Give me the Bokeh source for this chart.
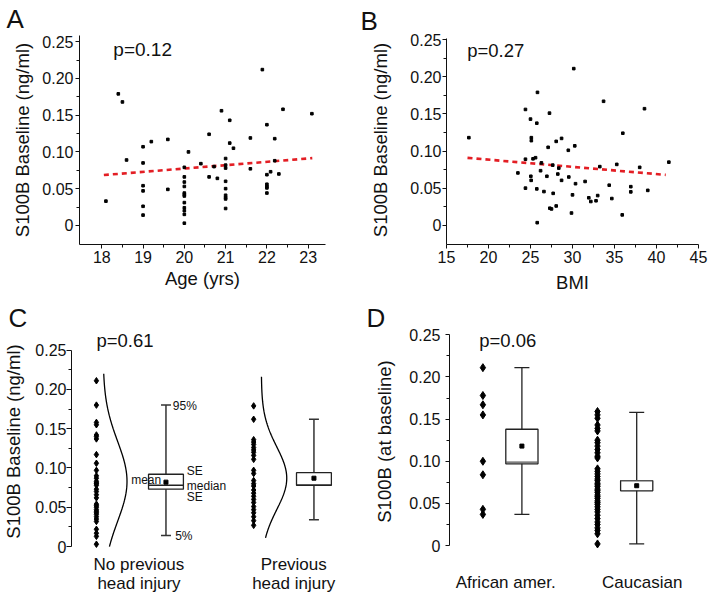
import numpy as np
from bokeh.plotting import figure
from bokeh.layouts import column, row
from bokeh.models import Range1d, FixedTicker, Label
from bokeh.embed import file_html
from bokeh.resources import INLINE

FONT = "Liberation Sans"
INK = "#111111"
RED = "#e31e24"

# ---------------- data ----------------
# Panel A: age vs S100B baseline
age_yrs = [18.10, 18.40, 18.50, 18.60,
           19.0, 19.0, 19.0, 19.0, 19.0, 19.0, 19.2, 19.6, 19.6,
           20.0, 20.0, 20.0, 20.0, 20.0, 20.0, 20.0, 20.0, 20.0, 20.0, 20.0, 20.0,
           20.1, 20.4, 20.6, 20.6, 20.72, 20.8, 20.9,
           21.0, 21.0, 21.0, 21.0, 21.0, 21.0, 21.0, 21.0, 21.0,
           21.1, 21.1, 21.19, 21.6, 21.6, 21.89,
           22.0, 22.0, 22.0, 22.0, 22.0, 22.0,
           22.09, 22.19, 22.19, 22.29, 22.39, 23.09]
s100b_age = [0.033, 0.179, 0.168, 0.089,
             0.107, 0.085, 0.054, 0.047, 0.026, 0.014, 0.114, 0.117, 0.049,
             0.079, 0.066, 0.059, 0.053, 0.044, 0.042, 0.040, 0.031, 0.024, 0.020, 0.015, 0.003,
             0.100, 0.084, 0.124, 0.066, 0.080, 0.064, 0.156,
             0.091, 0.082, 0.078, 0.060, 0.050, 0.041, 0.038, 0.036, 0.023,
             0.143, 0.112, 0.105, 0.119, 0.077, 0.212,
             0.137, 0.069, 0.056, 0.053, 0.051, 0.044,
             0.073, 0.118, 0.088, 0.070, 0.158, 0.152]
fit_age_x = [18.05, 23.1]
fit_age_y = [0.0685, 0.0915]
p_age = "p=0.12"

# Panel B: BMI vs S100B baseline
bmi = [17.66, 25.83, 24.4, 27.26, 25.0, 25.75, 25.1, 25.1, 28.7, 28.06, 27.1, 29.5,
       24.4, 25.3, 25.6, 26.3, 27.65, 28.37, 23.5, 26.2, 28.25, 25.04, 26.95, 29.56,
       25.08, 28.7, 24.4, 25.75, 26.6, 27.7, 28.06, 27.3, 27.5, 25.8,
       30.15, 33.7, 38.57, 35.99, 30.27, 35.27, 33.25, 38.0, 41.47, 30.36, 31.5, 34.37,
       36.94, 36.94, 38.96, 30.0, 33.0, 31.94, 34.68, 32.18, 32.8, 29.88, 35.92]
s100b_bmi = [0.118, 0.179, 0.156, 0.151, 0.143, 0.1375, 0.118, 0.114, 0.117, 0.113, 0.105, 0.101,
             0.089, 0.0895, 0.091, 0.084, 0.081, 0.077, 0.0705, 0.0735, 0.069, 0.066, 0.066, 0.065,
             0.0605, 0.0605, 0.050, 0.049, 0.0454, 0.043, 0.026, 0.023, 0.022, 0.0035,
             0.211, 0.167, 0.157, 0.124, 0.107, 0.082, 0.079, 0.078, 0.085, 0.056, 0.059, 0.054,
             0.052, 0.045, 0.047, 0.041, 0.040, 0.037, 0.036, 0.032, 0.033, 0.0165, 0.014]
fit_bmi_x = [17.5, 41.1]
fit_bmi_y = [0.0908, 0.0679]
p_bmi = "p=0.27"

# Panel C: previous head injury
c_categories = ["No previous\nhead injury", "Previous\nhead injury"]
c_values = [
    [0.211, 0.180, 0.158, 0.155, 0.142, 0.140, 0.137, 0.117, 0.106, 0.097, 0.090, 0.087,
     0.083, 0.081, 0.080, 0.078, 0.073, 0.070, 0.066, 0.062, 0.054, 0.052, 0.050, 0.047,
     0.045, 0.043, 0.041, 0.038, 0.035, 0.032, 0.022, 0.017, 0.013, 0.003],
    [0.179, 0.162, 0.136, 0.133, 0.130, 0.126, 0.123, 0.120, 0.116, 0.111, 0.097, 0.093,
     0.084, 0.080, 0.077, 0.072, 0.068, 0.064, 0.060, 0.056, 0.051, 0.047, 0.043, 0.038,
     0.033, 0.027],
]
c_p5 = [0.014, 0.034]
c_se_lo = [0.073, 0.078]
c_median = [0.078, 0.078]
c_se_hi = [0.092, 0.094]
c_p95 = [0.180, 0.162]
c_mean = [0.082, 0.087]
c_fit_mean = [0.083, 0.087]
c_fit_sd = [0.051, 0.040]
c_fit_lo = [0.0, 0.011]
c_fit_hi = [0.220, 0.216]
p_injury = "p=0.61"

# Panel D: ethnicity
d_categories = ["African amer.", "Caucasian"]
d_values = [
    [0.211, 0.178, 0.167, 0.155, 0.100, 0.084, 0.043, 0.037],
    [0.159, 0.155, 0.151, 0.143, 0.139, 0.136, 0.125, 0.122, 0.118, 0.114, 0.110, 0.106,
     0.104, 0.091, 0.088, 0.085, 0.082, 0.079, 0.077, 0.074, 0.072, 0.070, 0.067, 0.065,
     0.063, 0.060, 0.058, 0.056, 0.053, 0.051, 0.049, 0.046, 0.043, 0.040, 0.036, 0.032,
     0.028, 0.025, 0.021, 0.018, 0.014, 0.002],
]
d_low = [0.037, 0.002]
d_box_lo = [0.097, 0.065]
d_median = [0.099, 0.077]
d_box_hi = [0.138, 0.077]
d_high = [0.211, 0.158]
d_mean = [0.118, 0.071]
p_ethnic = "p=0.06"

y_ticks = [0, 0.05, 0.10, 0.15, 0.20, 0.25]
y_tick_labels = ["0", "0.05", "0.10", "0.15", "0.20", "0.25"]
y_minor = [0.025, 0.075, 0.125, 0.175, 0.225]
age_ticks = [18, 19, 20, 21, 22, 23]
age_minor = [18.5, 19.5, 20.5, 21.5, 22.5]
bmi_ticks = [15, 20, 25, 30, 35, 40, 45]
bmi_minor = [17.5, 22.5, 27.5, 32.5, 37.5, 42.5]


# ---------------- helpers ----------------
def make_fig(w, h, xr, yr, bl, br, bt, bb, letter, letter_offset, letter_standoff):
    p = figure(width=w, height=h, x_range=Range1d(*xr), y_range=Range1d(*yr),
               output_backend="svg", toolbar_location=None,
               min_border_left=bl, min_border_right=br,
               min_border_top=bt, min_border_bottom=bb)
    p.grid.visible = False
    p.outline_line_color = None
    p.background_fill_color = "white"
    p.border_fill_color = "white"
    p.title.text = letter
    p.title.text_font = FONT
    p.title.text_font_size = "26px"
    p.title.text_font_style = "normal"
    p.title.text_color = INK
    p.title.align = "left"
    p.title.offset = letter_offset
    p.title.standoff = letter_standoff
    return p


def style_axis(ax, ticks, labels, minor, label, tick_out, lab_standoff, axlab_standoff):
    ax.ticker = FixedTicker(ticks=ticks, minor_ticks=minor)
    ax.major_label_overrides = {t: l for t, l in zip(ticks, labels)}
    ax.axis_line_color = INK
    ax.axis_line_width = 1
    ax.major_tick_line_color = INK
    ax.minor_tick_line_color = INK
    ax.major_tick_out = tick_out
    ax.major_tick_in = 0
    ax.minor_tick_out = 3
    ax.minor_tick_in = 0
    ax.major_label_standoff = lab_standoff
    ax.major_label_text_font = FONT
    ax.major_label_text_font_size = "16px"
    ax.major_label_text_color = INK
    ax.axis_label = label
    ax.axis_label_text_font = FONT
    ax.axis_label_text_font_size = "18.5px"
    ax.axis_label_text_font_style = "normal"
    ax.axis_label_text_color = INK
    ax.axis_label_standoff = axlab_standoff


def category_axis(ax, positions, labels, standoff):
    ax.ticker = FixedTicker(ticks=positions, minor_ticks=[])
    ax.major_label_overrides = {t: l for t, l in zip(positions, labels)}
    ax.axis_line_color = None
    ax.major_tick_line_color = None
    ax.minor_tick_line_color = None
    ax.major_tick_out = 0
    ax.major_tick_in = 0
    ax.major_label_standoff = standoff
    ax.major_label_text_font = FONT
    ax.major_label_text_font_size = "17px"
    ax.major_label_text_color = INK
    ax.major_label_text_line_height = 1.0


def add_text(p, x, y, text, size, align="left"):
    p.add_layout(Label(x=x, y=y, text=text, text_font=FONT, text_font_size=size,
                       text_align=align, text_baseline="middle", text_color=INK))


# ---------------- Panel A ----------------
pA = make_fig(355, 300, (17.46, 23.42), (-0.026, 0.2584), 79, 30, 33, 56, "A", -73, 3)
style_axis(pA.yaxis[0], y_ticks, y_tick_labels, y_minor, "S100B Baseline (ng/ml)", 4, 2, 6)
style_axis(pA.xaxis[0], age_ticks, [str(t) for t in age_ticks], age_minor, "Age (yrs)", 4, 2, 2)
pA.line(fit_age_x, fit_age_y, line_color=RED, line_width=2.6, line_dash="5 4")
pA.scatter(age_yrs, s100b_age, marker="square", size=2.6, color="black")
add_text(pA, 18.28, 0.2396, p_age, "19px")

# ---------------- Panel B ----------------
pB = make_fig(356, 300, (15, 45), (-0.0259, 0.2556), 91, 13, 30, 53, "B", -86, 0)
style_axis(pB.yaxis[0], y_ticks, y_tick_labels, y_minor, "S100B Baseline (ng/ml)", 4, 1, 16)
pB.yaxis[0].bounds = (-0.0259, 0.2513)
style_axis(pB.xaxis[0], bmi_ticks, [str(t) for t in bmi_ticks], bmi_minor, "BMI", 4, 2, 6)
pB.line(fit_bmi_x, fit_bmi_y, line_color=RED, line_width=2.6, line_dash="5 4")
pB.scatter(bmi, s100b_bmi, marker="square", size=2.6, color="black")
add_text(pB, 17.46, 0.2351, p_bmi, "18.5px")

# ---------------- Panel C ----------------
pC = make_fig(355, 296, (0, 285), (-0.005, 0.2724), 70, 0, 30, 46, "C", -63, 0)
style_axis(pC.yaxis[0], y_ticks, y_tick_labels, y_minor, "S100B Baseline (ng/ml)", 5, 0, 8)
pC.yaxis[0].bounds = (0, 0.25)
c_dot_x = [25.0, 182.8]
c_curve_base = [31.7, 190.5]
c_curve_amp = [24.0, 25.5]
c_box_x = [94.8, 243.3]
c_box_w = 35.0
c_cap_w = 10.0
c_label_x = [67.7, 223.0]
category_axis(pC.xaxis[0], c_label_x, c_categories, 4)
for i in range(2):
    vals = c_values[i]
    pC.scatter([c_dot_x[i]] * len(vals), vals, marker="diamond", size=6.5, color="black")
    ys = np.linspace(c_fit_lo[i], c_fit_hi[i], 150)
    xs = c_curve_base[i] + c_curve_amp[i] * np.exp(-0.5 * ((ys - c_fit_mean[i]) / c_fit_sd[i]) ** 2)
    pC.line(xs, ys, line_color="black", line_width=1.3)
    bx = c_box_x[i]
    pC.segment(x0=[bx], y0=[c_p5[i]], x1=[bx], y1=[c_p95[i]], line_color="#333333", line_width=1.5)
    pC.segment(x0=[bx - c_cap_w / 2] * 2, y0=[c_p5[i], c_p95[i]],
               x1=[bx + c_cap_w / 2] * 2, y1=[c_p5[i], c_p95[i]], line_color="#333333", line_width=1.5)
    pC.quad(left=[bx - c_box_w / 2], right=[bx + c_box_w / 2], bottom=[c_se_lo[i]], top=[c_se_hi[i]],
            fill_color="white", line_color="#222222", line_width=1.3)
    pC.segment(x0=[bx - c_box_w / 2], y0=[c_median[i]], x1=[bx + c_box_w / 2], y1=[c_median[i]],
               line_color="#222222", line_width=1.3)
    pC.scatter([bx], [c_mean[i]], marker="square", size=4, color="black")
add_text(pC, 25, 0.2625, p_injury, "18.5px")
add_text(pC, 101.7, 0.1793, "95%", "12px")
add_text(pC, 104.0, 0.0135, "5%", "12px")
add_text(pC, 115.7, 0.0966, "SE", "12px")
add_text(pC, 115.7, 0.0773, "median", "12px")
add_text(pC, 115.7, 0.0632, "SE", "12px")
add_text(pC, 90.0, 0.0845, "mean", "12px", align="right")

# ---------------- Panel D ----------------
pD = make_fig(356, 296, (0, 262), (-0.0058, 0.2527), 94, 0, 30, 44, "D", -83, 0)
style_axis(pD.yaxis[0], y_ticks, y_tick_labels, y_minor, "S100B (at baseline)", 4, 5, 11)
pD.yaxis[0].bounds = (0, 0.25)
d_dot_x = [33.4, 148.0]
d_box_x = [72.4, 187.2]
d_box_w = 32.2
d_cap_w = 15.0
d_label_x = [56.2, 192.7]
category_axis(pD.xaxis[0], d_label_x, d_categories, 22)
for i in range(2):
    vals = d_values[i]
    pD.scatter([d_dot_x[i]] * len(vals), vals, marker="diamond", size=8, color="black")
    bx = d_box_x[i]
    pD.segment(x0=[bx], y0=[d_low[i]], x1=[bx], y1=[d_high[i]], line_color="#222222", line_width=1.3)
    pD.segment(x0=[bx - d_cap_w / 2] * 2, y0=[d_low[i], d_high[i]],
               x1=[bx + d_cap_w / 2] * 2, y1=[d_low[i], d_high[i]], line_color="#222222", line_width=1.3)
    pD.quad(left=[bx - d_box_w / 2], right=[bx + d_box_w / 2], bottom=[d_box_lo[i]], top=[d_box_hi[i]],
            fill_color="white", line_color="#222222", line_width=1.3)
    pD.segment(x0=[bx - d_box_w / 2], y0=[d_median[i]], x1=[bx + d_box_w / 2], y1=[d_median[i]],
               line_color="#555555", line_width=1.3)
    pD.scatter([bx], [d_mean[i]], marker="square", size=4, color="black")
add_text(pD, 29.7, 0.2436, p_ethnic, "18.5px")

layout = column(row(pA, pB, spacing=0), row(pC, pD, spacing=0), spacing=0)
open("out.html", "w").write(file_html(layout, INLINE))
